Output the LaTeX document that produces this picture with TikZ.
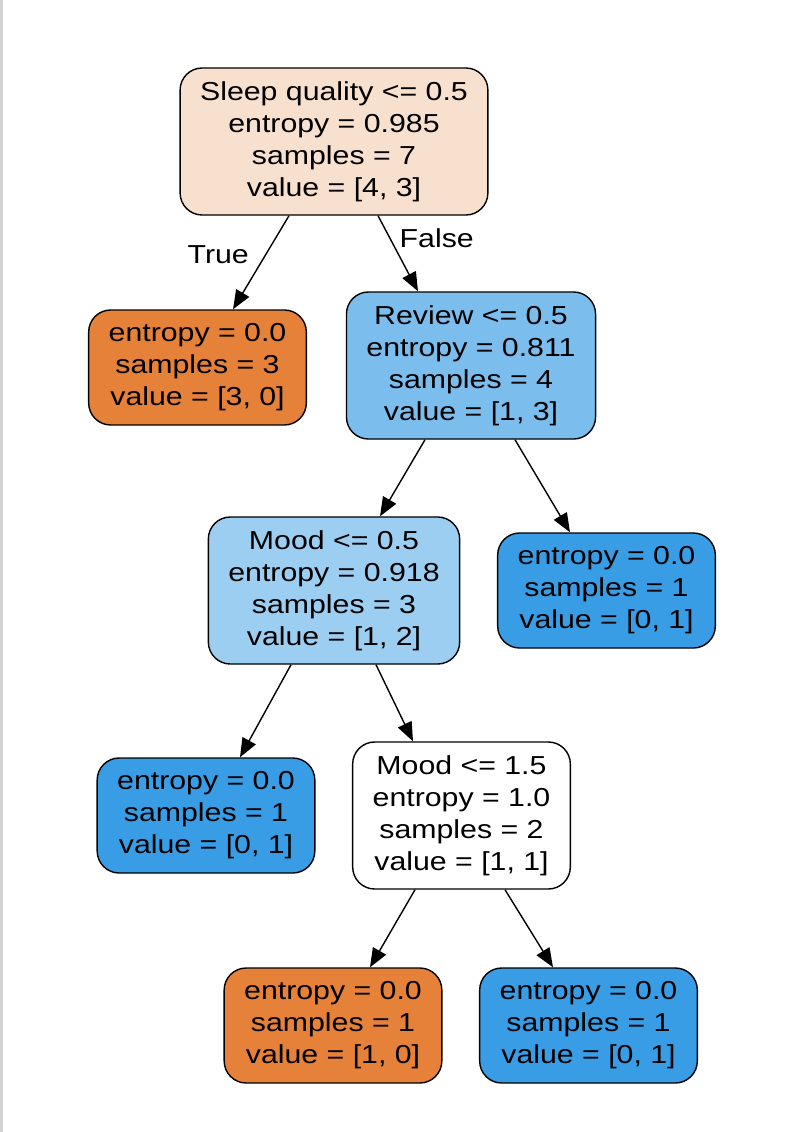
\documentclass[tikz,border=0pt]{standalone}
\usepackage{fontspec}
\setmainfont{Liberation Sans}[FakeStretch=1.165]
\usetikzlibrary{positioning,arrows.meta}
\definecolor{orangeleaf}{HTML}{E58139}
\definecolor{blueleaf}{HTML}{399DE5}
\definecolor{rootfill}{HTML}{F8E0CE}
\definecolor{reviewfill}{HTML}{7BBEEE}
\definecolor{moodfill}{HTML}{9CCEF2}
\definecolor{framegray}{HTML}{D3D3D3}

\tikzset{
  split/.style={draw, line width=1.4pt, rounded corners=22pt, align=center,
    inner xsep=20pt, inner ysep=0pt, minimum height=147pt},
  leaf/.style={split, minimum height=115pt},
  branch/.style={anchor=#1, inner sep=0pt},
}

\begin{document}
\begin{tikzpicture}[x=1pt, y=-1pt, on grid, line width=1.4pt,
  >={Triangle[length=19pt,width=15pt]}, font=\fontsize{26}{32}\selectfont]
  \useasboundingbox (0,0) rectangle (785,1132);
  \fill[framegray] (0,0) rectangle (3,1132);

  \node[split, fill=rootfill]   (root) at (334,141.5) {Sleep quality <= 0.5\\entropy = 0.985\\samples = 7\\value = [4, 3]};
  \node[leaf, fill=orangeleaf]  (l1) [below left=226pt and 136.5pt of root]  {entropy = 0.0\\samples = 3\\value = [3, 0]};
  \node[split, fill=reviewfill] (review) [below right=224pt and 137pt of root] {Review <= 0.5\\entropy = 0.811\\samples = 4\\value = [1, 3]};
  \node[split, fill=moodfill]   (mood) [below left=225pt and 137pt of review] {Mood <= 0.5\\entropy = 0.918\\samples = 3\\value = [1, 2]};
  \node[leaf, fill=blueleaf]    (l2) [below right=225pt and 135.5pt of review] {entropy = 0.0\\samples = 1\\value = [0, 1]};
  \node[leaf, fill=blueleaf]    (l3) [below left=225pt and 128pt of mood]  {entropy = 0.0\\samples = 1\\value = [0, 1]};
  \node[split, fill=white]      (moodb) [below right=225pt and 127.5pt of mood] {Mood <= 1.5\\entropy = 1.0\\samples = 2\\value = [1, 1]};
  \node[leaf, fill=orangeleaf]  (l4) [below left=210pt and 128.5pt of moodb] {entropy = 0.0\\samples = 1\\value = [1, 0]};
  \node[leaf, fill=blueleaf]    (l5) [below right=210pt and 127pt of moodb] {entropy = 0.0\\samples = 1\\value = [0, 1]};

  \draw[->] ([xshift=-45pt]root.south) -- ([xshift=35.5pt]l1.north)
    node[branch=east, pos=0.42, xshift=-16pt] {True};
  \draw[->] ([xshift=44pt]root.south) -- ([xshift=-53pt]review.north)
    node[branch=west, pos=0.3, xshift=9pt] {False};
  \draw[->] ([xshift=-46pt]review.south) -- ([xshift=46pt]mood.north);
  \draw[->] ([xshift=44pt]review.south) -- ([xshift=-36.5pt]l2.north);
  \draw[->] ([xshift=-43pt]mood.south) -- ([xshift=34pt]l3.north);
  \draw[->] ([xshift=42pt]mood.south) -- ([xshift=-48.5pt]moodb.north);
  \draw[->] ([xshift=-46.5pt]moodb.south) -- ([xshift=37pt]l4.north);
  \draw[->] ([xshift=43.5pt]moodb.south) -- ([xshift=-35.5pt]l5.north);
\end{tikzpicture}
\end{document}
